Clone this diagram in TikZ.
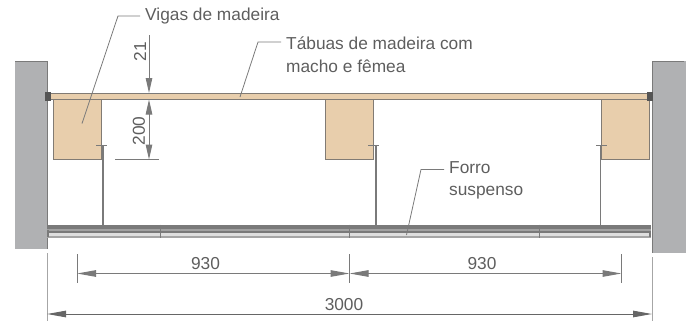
\documentclass[tikz,border=0pt]{standalone}
\usepackage{fontspec}
\setmainfont{Liberation Sans}
\usetikzlibrary{arrows.meta}
\definecolor{wallgray}{HTML}{B0B1B3}
\definecolor{woodfill}{HTML}{E8CEAC}
\definecolor{linegray}{HTML}{7A7A7A}
\definecolor{textgray}{HTML}{5E5E5E}
\tikzset{
  dimline/.style={linegray,line width=1pt,{Triangle[length=19pt,width=6.5pt]}-{Triangle[length=19pt,width=6.5pt]}},
  dimtick/.style={linegray,line width=0.8pt},
  leader/.style={linegray,line width=0.8pt},
  labeltext/.style={textgray,font=\fontsize{17.3}{22.5}\selectfont,inner sep=0pt,align=left,anchor=west},
  dimtext/.style={textgray,font=\fontsize{17.3}{20}\selectfont,inner sep=0pt},
  beam/.style={fill=woodfill,draw=linegray!90!brown,line width=0.9pt},
}
\begin{document}
\begin{tikzpicture}[x=1pt,y=-1pt]
\useasboundingbox (0,0) rectangle (689,322);
% walls
\fill[wallgray] (15,61) rectangle (47,249);
\fill[wallgray] (652,61) rectangle (686,253);
\draw[linegray,line width=0.8pt] (15,61)--(47,61)--(47,249);
\draw[linegray,line width=0.8pt] (684,61)--(652,61)--(652,253);
% boards and beams
\foreach \xa/\xb in {53/101,325.5/373.5,601.5/649.5}
  \draw[beam] (\xa,99.5) rectangle (\xb,159.5);
\fill[woodfill] (47,93) rectangle (651,99);
\draw[linegray!90!brown,line width=1pt] (47,93)--(651,93);
\draw[linegray!90!brown,line width=1pt] (47,99.5)--(651,99.5);
\fill[linegray!70!black] (45,92) rectangle (51,100.5);
\fill[linegray!70!black] (647,92) rectangle (652.5,100.5);
% hangers
\foreach \xh/\xt in {103/96,376/368,600.5/596}
{
  \draw[linegray,line width=1.8pt] (\xh,146)--(\xh,225);
  \draw[linegray,line width=0.8pt] (\xt,145.5)--(\xt+11,145.5);
}
% ceiling
\fill[linegray] (47,224.5) rectangle (651,229);
\fill[linegray!70] (47,229) rectangle (651,231);
\fill[linegray] (47,231) rectangle (651,233);
\fill[gray!25] (47,233) rectangle (651,236);
\fill[gray!70] (47,236) rectangle (651,237.5);
\draw[linegray,line width=1.2pt] (48,230)--(48,237);
\draw[linegray,line width=1.2pt] (650,231)--(650,237);
\foreach \xs in {160.5,349.5,539}
  \draw[linegray,line width=0.7pt] (\xs,224.5)--(\xs,237.5);
% dimensions
\coordinate (d21a) at (149,35);
\coordinate (d21b) at (149,93);
\coordinate (d200a) at (149,99.5);
\coordinate (d200b) at (149,159.5);
\draw[dimtick] (139,93)--(159,93);
\draw[dimtick] (115,99.5)--(159,99.5);
\draw[dimtick] (115,159.5)--(159,159.5);
\draw[linegray,line width=1pt,-{Triangle[length=15pt,width=6.5pt]}] (d21a)--(d21b);
\draw[linegray,line width=1pt,{Triangle[length=15pt,width=6.5pt]}-{Triangle[length=15pt,width=6.5pt]}] (d200a)--(d200b);
\node[dimtext,rotate=90] (lab21) at (140,51.5) {21};
\node[dimtext,rotate=90] (lab200) at (139,131) {200};
\coordinate (m1) at (77,273.5);
\coordinate (m2) at (349.5,273.5);
\coordinate (m3) at (621.5,273.5);
\coordinate (t1) at (47,314);
\coordinate (t2) at (652,314);
\foreach \xd in {77,349.5,621.5}
  \draw[dimtick] (\xd,254)--(\xd,283);
\draw[gray!70,line width=1pt] (47,253)--(47,321);
\draw[gray!70,line width=1pt] (652,257)--(652,321);
\draw[dimline] (m1)--(m2);
\draw[dimline] (m2)--(m3);
\draw[dimline,gray!80!black] (t1)--(t2);
\node[dimtext] (lab930a) at (205.5,264) {930};
\node[dimtext] (lab930b) at (482,264) {930};
\node[dimtext] (lab3000) at (344,305) {3000};
% labels
\node[labeltext] (vigas) at (145,16) {Vigas de madeira};
\node[labeltext] (tabuas) at (286,54.5) {Tábuas de madeira com\\macho e fêmea};
\node[labeltext] (forro) at (449,180.5) {Forro\\suspenso};
\coordinate (vigasEnd) at (82,123.5);
\coordinate (tabuasEnd) at (240,97);
\coordinate (forroEnd) at (406.5,235);
\draw[leader] (vigas.west)++(-5,0)--(118,16)--(vigasEnd);
\draw[leader] (281,42)--(258,42)--(tabuasEnd);
\draw[leader] (444,169.5)--(421,169.5)--(forroEnd);
\end{tikzpicture}
\end{document}
